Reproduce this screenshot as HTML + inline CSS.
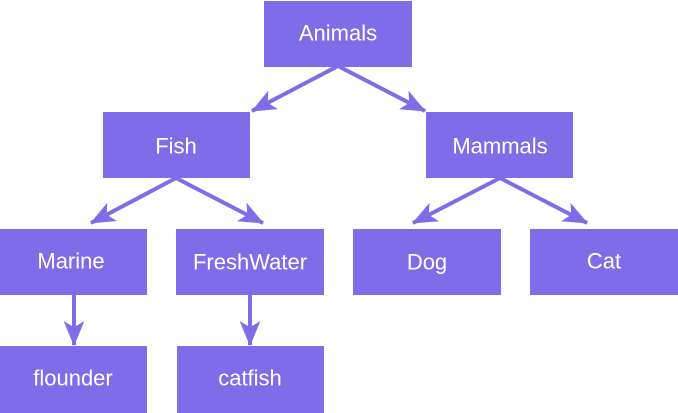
<!DOCTYPE html>
<html><head><style>
html,body{margin:0;padding:0;background:#fff;}
svg{display:block}
text{font-family:"Liberation Sans",sans-serif;font-size:22px;fill:#fff;text-anchor:middle;dominant-baseline:central}
</style></head><body>
<svg width="678" height="413" viewBox="0 0 678 413">
<defs>
<marker id="a" viewBox="0 0 24 20" refX="23" refY="10" markerWidth="25" markerHeight="21" markerUnits="userSpaceOnUse" orient="auto">
<path d="M0,0 L24,10 L0,20 L6,10 z" fill="#7f6ce8"/>
</marker>
</defs>
<g fill="#7f6ce8">
<rect x="264" y="1" width="148" height="66"/>
<rect x="103" y="112" width="147" height="66"/>
<rect x="426" y="112" width="147" height="66"/>
<rect x="0" y="229" width="147" height="66"/>
<rect x="176" y="229" width="148" height="66"/>
<rect x="353" y="229" width="148" height="66"/>
<rect x="530" y="229" width="148" height="66"/>
<rect x="0" y="346" width="147" height="67"/>
<rect x="177" y="346" width="147" height="67"/>
</g>
<g stroke="#7f6ce8" stroke-width="4" marker-end="url(#a)">
<line x1="338" y1="66" x2="252" y2="111"/>
<line x1="338" y1="66" x2="425" y2="111"/>
<line x1="176" y1="178" x2="91" y2="223"/>
<line x1="176" y1="178" x2="263" y2="223"/>
<line x1="500" y1="178" x2="413" y2="223"/>
<line x1="500" y1="178" x2="587" y2="223"/>
<line x1="74" y1="295" x2="74" y2="345"/>
<line x1="250" y1="295" x2="250" y2="345"/>
</g>
<text x="338" y="33">Animals</text>
<text x="176" y="146">Fish</text>
<text x="500" y="146">Mammals</text>
<text x="71" y="261">Marine</text>
<text x="250" y="262">FreshWater</text>
<text x="427" y="262">Dog</text>
<text x="604" y="261">Cat</text>
<text x="73" y="378">flounder</text>
<text x="250" y="378">catfish</text>
</svg>
</body></html>
